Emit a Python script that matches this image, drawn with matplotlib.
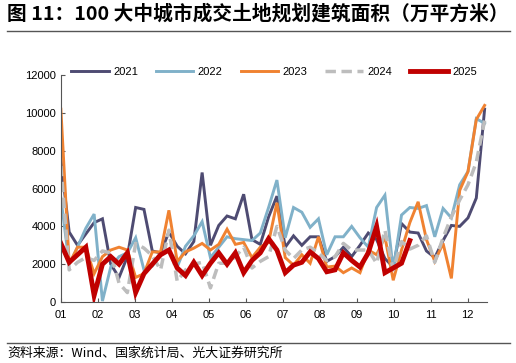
import matplotlib
matplotlib.use("Agg")
import matplotlib.pyplot as plt
from matplotlib.lines import Line2D
import numpy as np

plt.rcParams['font.family'] = ['Liberation Sans', 'Noto Sans CJK SC']

# === Data (weekly, 万平方米) ===
months = ["01", "02", "03", "04", "05", "06", "07", "08", "09", "10", "11", "12"]
years = ["2021", "2022", "2023", "2024", "2025"]

y2021 = [7500, 3700, 3000, 3600, 4200, 4400, 2000, 1300, 2400, 5000,
         4900, 2700, 2600, 3700, 2950, 2550, 3200, 6850, 3000, 4050,
         4550, 4400, 5700, 3300, 3050, 4500, 5600, 2900, 3500, 3000,
         3450, 3450, 2150, 2400, 2900, 2400, 3000, 3650, 3300, 2300,
         1850, 4150, 3700, 3650, 2700, 2350, 3250, 4050, 4000, 4450,
         5500, 10200]
y2022 = [5500, 2000, 2900, 3900, 4650, 50, 1850, 2400, 2600, 3400,
         1700, 1900, 2600, 2700, 1850, 2950, 3500, 4250, 2350, 2900,
         3450, 3350, 3300, 3250, 3650, 5000, 6450, 3400, 5000, 4750,
         3950, 4400, 2500, 3450, 3450, 4000, 3400, 2900, 5000, 5650,
         1700, 4600, 5000, 4950, 5100, 3450, 4950, 4450, 6200, 6900,
         9700, 9450]
y2023 = [10200, 2000, 2900, 2900, 1500, 2400, 2750, 2900, 2750, 1300,
         1500, 2650, 2650, 4850, 2150, 2650, 2850, 3100, 2750, 3050,
         3850, 3050, 3150, 2350, 2900, 3150, 5250, 2350, 1950, 2500,
         2050, 3450, 1850, 1900, 1550, 1800, 1550, 2750, 2500, 3450,
         1150, 2750, 4200, 5300, 3300, 2150, 3100, 1250, 5900, 6900,
         9650, 10400]
y2024 = [7200, 1700, 2100, 2350, 2200, 2700, 2600, 1000, 500, 3100,
         2850, 2450, 1700, 3800, 1100, 1700, 2000, 2100, 750, 2050,
         2050, 2400, 2900, 1800, 2150, 2400, 4000, 2750, 2300, 2750,
         2900, 2600, 2200, 2400, 3100, 2750, 2750, 2750, 2050, 3800,
         1700, 3200, 2800, 3000, 3500, 2100, 3400, 4500, 5400, 6200,
         7400, 9600]
y2025 = [3100, 2100, 2500, 2900, 350, 2000, 2400, 2000, 2600, 500,
         1500, 2000, 2500, 2750, 1800, 1400, 2100, 1400, 2050, 2600,
         2000, 2600, 1550, 2200, 2600, 3350, 2750, 1550, 1950, 2100,
         2650, 2300, 1600, 1700, 2600, 2200, 1850, 2600, 4000, 1550,
         1800, 2050, 3250]

series = [y2021, y2022, y2023, y2024, y2025]
colors = ["#4e4b72", "#80b1c9", "#f08231", "#bdbdbd", "#c00000"]
widths = [2.1, 2.1, 2.1, 2.5, 3.5]
styles = ["-", "-", "-", (0, (3, 1.6)), "-"]

fig = plt.figure(figsize=(5.16, 3.63), dpi=100)
ax = fig.add_axes([0.118, 0.168, 0.826, 0.625])

for name, vals, c, lw, ls in zip(years, series, colors, widths, styles):
    ax.plot(np.arange(len(vals)), vals, color=c, lw=lw, ls=ls, label=name,
            solid_joinstyle="miter")

ax.set_ylim(0, 12000)
ax.set_yticks(range(0, 12001, 2000))
ax.set_xlim(0, 51.3)
ax.set_xticks([4.45 * k for k in range(12)])
ax.set_xticklabels(months)

for s in ["top", "right"]:
    ax.spines[s].set_visible(False)
for s in ["left", "bottom"]:
    ax.spines[s].set_color("#555555")
    ax.spines[s].set_linewidth(0.8)
ax.tick_params(direction="in", length=3, width=0.8, colors="#555555",
               labelcolor="black", labelsize=8)
ax.tick_params(axis="x", pad=6)

handles = [Line2D([], [], color=c, lw=lw, ls=ls) for c, lw, ls in zip(colors, widths, styles)]
leg = ax.legend(handles, years, loc="center", bbox_to_anchor=(0.5, 1.015), ncol=5,
                frameon=False, fontsize=8, handlelength=3.4, handletextpad=0.4,
                columnspacing=1.6)

# title and source
fig.text(0.014, 0.962, "图 11：100 大中城市成交土地规划建筑面积（万平方米）",
         family=["Noto Sans CJK SC"], fontsize=14.2, fontweight="bold", va="center")
fig.add_artist(Line2D([0.014, 0.988], [0.915, 0.915], color="#555555", lw=1))
fig.add_artist(Line2D([0.014, 0.988], [0.055, 0.055], color="#555555", lw=1))
fig.text(0.014, 0.028, "资料来源：Wind、国家统计局、光大证券研究所",
         family=["Noto Sans CJK SC", "DejaVu Sans"], fontsize=9.3, va="center")

fig.savefig("out.png", dpi=100)
